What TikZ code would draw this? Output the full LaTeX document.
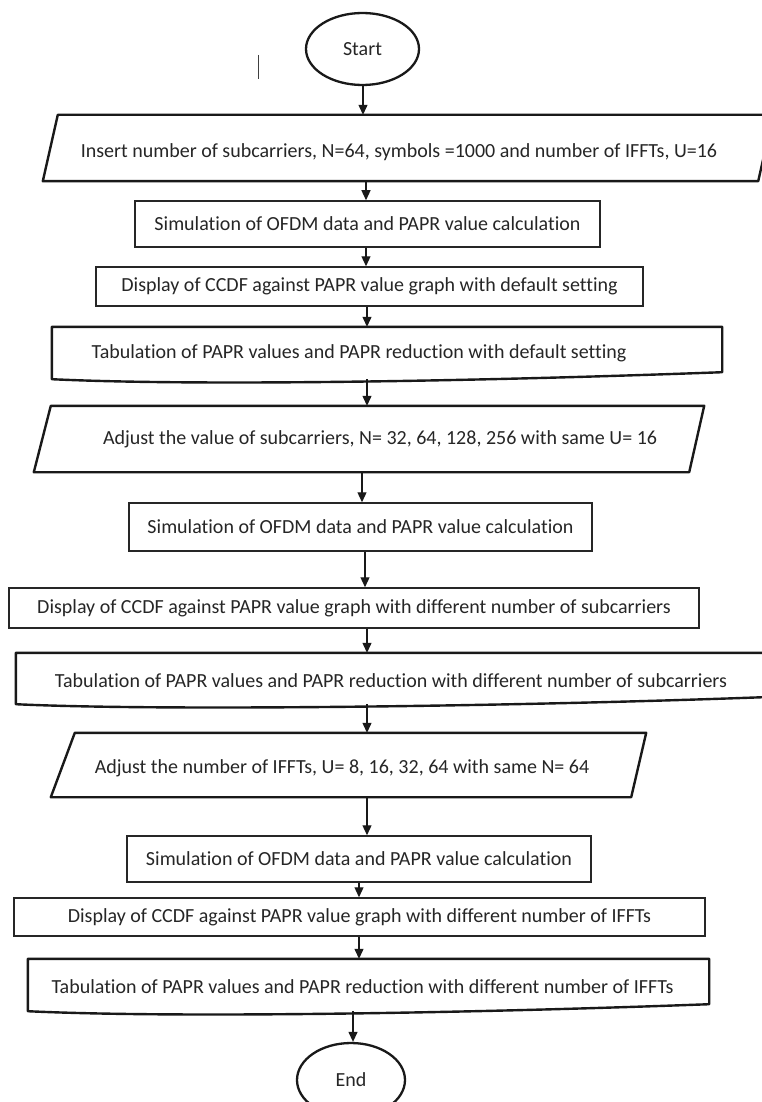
\documentclass[tikz,border=0pt]{standalone}
\usepackage{fontspec}
\setmainfont{Carlito}[Ligatures=CommonOff]
\usetikzlibrary{shapes.geometric,arrows.meta}

\tikzset{
  proc/.style={draw=black!85, line width=1.5pt, inner sep=0pt, text=black!85},
  term/.style={ellipse, draw=black!90, line width=2.3pt, inner sep=0pt, text=black!85},
  frame/.style={inner sep=0pt},
  txt/.style={inner sep=0pt, text=black!85},
  ioline/.style={draw=black!90, line width=2.4pt, line join=round},
  docline/.style={draw=black!90, line width=2.4pt, line join=round},
  arr/.style={black!90, line width=1.2pt, -{Triangle[width=9pt,length=10pt]}}
}

% outline of an input box: node name, left slant, right slant
\newcommand{\ioshape}[3]{\draw[ioline] ([xshift=#2pt]#1.north west) -- (#1.north east) -- ([xshift=-#3pt]#1.south east) -- (#1.south west) -- cycle;}
% outline of a document box with a wavy bottom
\newcommand{\docshape}[1]{\draw[docline] ([yshift=7pt]#1.south east) -- (#1.north east) -- (#1.north west) -- (#1.south west) .. controls ([xshift=148pt,yshift=-7pt]#1.south west) and ([xshift=-242pt,yshift=-2pt]#1.south east) .. ([yshift=7pt]#1.south east) -- cycle;}

\begin{document}
\begin{tikzpicture}[x=1pt, y=-1pt, font=\fontsize{20}{24}\selectfont]
    \useasboundingbox (0,0) rectangle (761,1102);
    \fill[white] (0,0) rectangle (761,1102);

    \node[term, minimum width=113pt, minimum height=72pt] (start) at (362.5,49) {Start};
    \draw[black!75, line width=1pt] (258,55) -- (258,79); % stray tick

    % first run with default setting
    \node[frame, minimum width=730pt, minimum height=66pt] (in1) at (408,148) {};
    \ioshape{in1}{15}{15}
    \node[txt] (in1t) at (399,152) {Insert number of subcarriers, N=64, symbols =1000 and number of IFFTs, U=16};
    \node[proc, minimum width=465pt, minimum height=46pt] (sim1) at (367.5,224) {Simulation of OFDM data and PAPR value calculation};
    \node[proc, minimum width=547pt, minimum height=39pt] (disp1) at (369.5,286.5) {Display of CCDF against PAPR value graph with default setting};
    \node[frame, minimum width=670pt, minimum height=52pt] (tab1) at (387,353) {};
    \docshape{tab1}
    \node[txt] (tab1t) at (359,353) {Tabulation of PAPR values and PAPR reduction with default setting};

    % different number of subcarriers
    \node[frame, minimum width=670pt, minimum height=66pt] (adj1) at (369,439) {};
    \ioshape{adj1}{17}{15}
    \node[txt] (adj1t) at (380,439) {Adjust the value of subcarriers, N= 32, 64, 128, 256 with same U= 16};
    \node[proc, minimum width=463pt, minimum height=48pt] (sim2) at (360.5,527) {Simulation of OFDM data and PAPR value calculation};
    \node[proc, minimum width=690pt, minimum height=40pt] (disp2) at (354,608) {Display of CCDF against PAPR value graph with different number of subcarriers};
    \node[frame, minimum width=747pt, minimum height=51pt] (tab2) at (389.5,678.5) {};
    \docshape{tab2}
    \node[txt] (tab2t) at (391,681) {Tabulation of PAPR values and PAPR reduction with different number of subcarriers};

    % different number of IFFTs
    \node[frame, minimum width=595pt, minimum height=64pt] (adj2) at (348.5,765) {};
    \ioshape{adj2}{24}{15}
    \node[txt] (adj2t) at (342,768) {Adjust the number of IFFTs, U= 8, 16, 32, 64 with same N= 64};
    \node[proc, minimum width=464pt, minimum height=46pt] (sim3) at (359,859) {Simulation of OFDM data and PAPR value calculation};
    \node[proc, minimum width=691pt, minimum height=38pt] (disp3) at (359.5,917) {Display of CCDF against PAPR value graph with different number of IFFTs};
    \node[frame, minimum width=681pt, minimum height=52pt] (tab3) at (368.5,985) {};
    \docshape{tab3}
    \node[txt] (tab3t) at (362.5,987) {Tabulation of PAPR values and PAPR reduction with different number of IFFTs};

    \node[term, minimum width=108pt, minimum height=74pt] (end) at (351,1080) {End};

    % connectors
    \foreach \a/\b/\x in {start/in1/363, in1/sim1/366, sim1/disp1/366, disp1/tab1/367,
                          tab1/adj1/367, adj1/sim2/362, sim2/disp2/365, disp2/tab2/367,
                          tab2/adj2/367, adj2/sim3/367, sim3/disp3/359, disp3/tab3/359,
                          tab3/end/353}
        \draw[arr] (\a.south -| \x,0) -- (\b.north -| \x,0);
\end{tikzpicture}
\end{document}
